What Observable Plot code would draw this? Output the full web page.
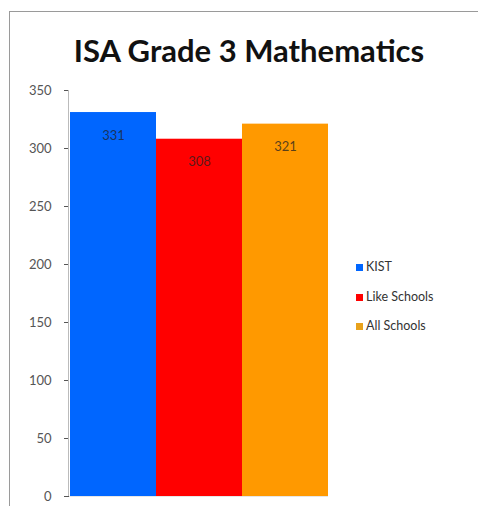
<!DOCTYPE html>
<html>
<head>
<meta charset="utf-8">
<script src="https://cdn.jsdelivr.net/npm/d3@7"></script>
<script src="https://cdn.jsdelivr.net/npm/@observablehq/plot@0.6"></script>
<style>
  html, body { margin: 0; padding: 0; background: #fff; }
  #wrap { position: relative; width: 478px; height: 506px; overflow: hidden; font-family: Lato, "Open Sans", sans-serif; }
  #frame { position: absolute; left: 9px; top: 11px; width: 480px; height: 500px; border-left: 1.5px solid #9a9a9a; border-top: 1.5px solid #9a9a9a; box-sizing: border-box; }
  #title { position: absolute; left: 10px; width: 478px; top: 31px; text-align: center; font-weight: bold; font-size: 31px; color: #111; }
  #chart { position: absolute; left: 0; top: 0; }
  #legend { position: absolute; left: 356px; top: 259px; font-size: 12.5px; color: #333; }
  .row { height: 29.5px; display: flex; align-items: flex-start; }
  .sw { width: 7px; height: 7px; margin-right: 3px; margin-top: 5px; }
</style>
</head>
<body>
<div id="wrap">
  <div id="frame"></div>
  <div id="chart"></div>
  <div id="title">ISA Grade 3 Mathematics</div>
  <div id="legend"></div>
</div>
<script>
const categories = ["KIST", "Like Schools", "All Schools"];
const values = [331, 308, 321];
const colors = ["#0066ff", "#ff0000", "#ff9900"];
const yTicks = [0, 50, 100, 150, 200, 250, 300, 350];

const data = categories.map((c, i) => ({category: c, value: values[i], color: colors[i]}));

const chart = Plot.plot({
  width: 478,
  height: 506,
  marginLeft: 69,
  marginRight: 150,
  marginTop: 90,
  marginBottom: 10,
  style: {fontFamily: "Lato, 'Open Sans', sans-serif", background: "transparent"},
  x: {domain: categories, paddingInner: 0, paddingOuter: 0, axis: null},
  y: {domain: [0, 350]},
  marks: [
    Plot.axisY({ticks: yTicks, tickSize: 5, tickPadding: 13, fontSize: 13, color: "#555", label: null, tickFormat: d => String(d)}),
    Plot.barY(data, {x: "category", y: "value", fill: "color"}),
    Plot.text(data, {x: "category", y: "value", text: d => String(d.value), dy: 23, fontSize: 13, fill: "#222", fillOpacity: 0.75}),
    Plot.ruleY([0], {stroke: "#e6e6e6"})
  ]
});
document.getElementById("chart").appendChild(chart);

// axis line
const svg = d3.select(chart);
const yScale = chart.scale("y");
svg.append("line")
  .attr("x1", 68.5).attr("x2", 68.5)
  .attr("y1", yScale.apply(350)).attr("y2", yScale.apply(0))
  .attr("stroke", "#bbb");

const legend = d3.select("#legend");
data.forEach(d => {
  const row = legend.append("div").attr("class", "row");
  row.append("div").attr("class", "sw").style("background", d.category === "All Schools" ? "#e8a21c" : d.color);
  row.append("div").text(d.category);
});
</script>
</body>
</html>
